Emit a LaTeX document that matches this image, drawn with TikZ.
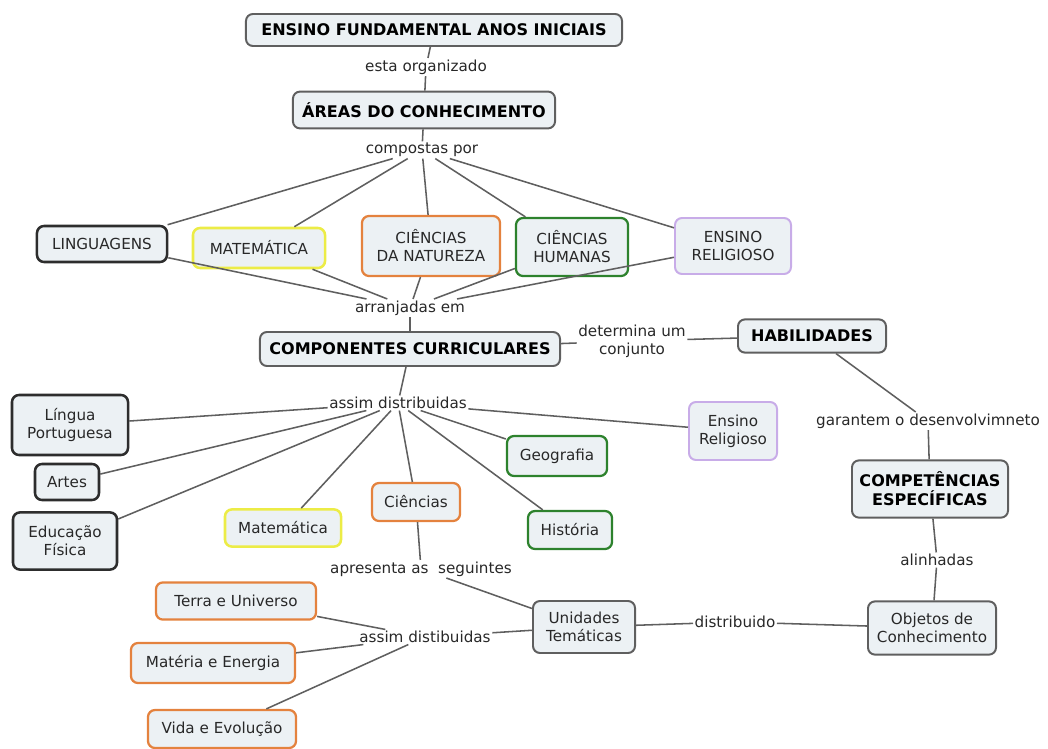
\documentclass[tikz,border=0pt]{standalone}
\usepackage{fontspec}
\setmainfont{DejaVu Sans}
\usepackage{tikz}

\definecolor{boxfill}{RGB}{236,241,244}
\definecolor{darkline}{RGB}{45,45,45}
\definecolor{grayline}{RGB}{95,95,95}
\definecolor{yellowline}{RGB}{236,236,70}
\definecolor{orangeline}{RGB}{228,130,62}
\definecolor{greenline}{RGB}{45,130,45}
\definecolor{purpleline}{RGB}{200,172,232}
\definecolor{txt}{RGB}{40,40,40}

\begin{document}
\begin{tikzpicture}[x=0.025cm, y=-0.025cm, font=\fontsize{10.8}{12.8}\selectfont]
    \tikzset{box/.style = {shape=rectangle, rounded corners=5pt, draw=grayline, line width=1.4pt, fill=boxfill, text=txt, align=center, inner sep=2pt}}
    \tikzset{title/.style = {box, font=\fontsize{11.4}{13.4}\selectfont\bfseries, text=black}}
    \tikzset{blackbox/.style = {box, draw=darkline, line width=1.8pt}}
    \tikzset{yellowbox/.style = {box, draw=yellowline, line width=1.8pt}}
    \tikzset{orangebox/.style = {box, draw=orangeline, line width=1.6pt}}
    \tikzset{greenbox/.style = {box, draw=greenline, line width=1.6pt}}
    \tikzset{purplebox/.style = {box, draw=purpleline, line width=1.4pt}}
    \tikzset{link/.style = {text=txt, align=center, inner sep=1pt}}
    \tikzset{edge/.style = {draw=grayline, line width=1.1pt, -}}

    \useasboundingbox (0,0) rectangle (1048,749);

    % main concepts
    \node[title, minimum width=9.4cm, minimum height=0.8cm] (efai) at (434,30) {ENSINO FUNDAMENTAL ANOS INICIAIS};
    \node[title, minimum width=6.55cm, minimum height=0.92cm] (areas) at (424,110) {ÁREAS DO CONHECIMENTO};
    \node[title, minimum width=7.5cm, minimum height=0.85cm] (comp) at (410,349) {COMPONENTES CURRICULARES};
    \node[title, minimum width=3.7cm, minimum height=0.83cm] (hab) at (812,336) {HABILIDADES};
    \node[title, minimum width=3.9cm, minimum height=1.43cm] (ce) at (930,489) {COMPETÊNCIAS\\ESPECÍFICAS};

    % areas
    \node[blackbox, minimum width=3.25cm, minimum height=0.9cm] (ling) at (102,244) {LINGUAGENS};
    \node[yellowbox, minimum width=3.3cm, minimum height=1cm] (mat) at (259,248) {MATEMÁTICA};
    \node[orangebox, minimum width=3.45cm, minimum height=1.5cm] (cn) at (431,246) {CIÊNCIAS\\DA NATUREZA};
    \node[greenbox, minimum width=2.8cm, minimum height=1.45cm] (ch) at (572,247) {CIÊNCIAS\\HUMANAS};
    \node[purplebox, minimum width=2.9cm, minimum height=1.4cm] (er) at (733,246) {ENSINO\\RELIGIOSO};

    % componentes
    \node[blackbox, minimum width=2.9cm, minimum height=1.5cm] (lp) at (70,425) {Língua\\Portuguesa};
    \node[blackbox, minimum width=1.6cm, minimum height=0.9cm] (artes) at (67,482) {Artes};
    \node[blackbox, minimum width=2.6cm, minimum height=1.43cm] (ef) at (65,541) {Educação\\Física};
    \node[yellowbox, minimum width=2.9cm, minimum height=0.93cm] (mat2) at (283,528) {Matemática};
    \node[orangebox, minimum width=2.2cm, minimum height=0.95cm] (cien) at (416,502) {Ciências};
    \node[greenbox, minimum width=2.5cm, minimum height=1cm] (geo) at (557,456) {Geografia};
    \node[greenbox, minimum width=2.1cm, minimum height=0.95cm] (hist) at (570,530) {História};
    \node[purplebox, minimum width=2.2cm, minimum height=1.45cm] (er2) at (733,431) {Ensino\\Religioso};

    % unidades
    \node[box, minimum width=2.55cm, minimum height=1.3cm] (ut) at (584,627) {Unidades\\Temáticas};
    \node[box, minimum width=3.2cm, minimum height=1.33cm] (oc) at (932,628) {Objetos de\\Conhecimento};
    \node[orangebox, minimum width=4cm, minimum height=0.93cm] (teu) at (236,601) {Terra e Universo};
    \node[orangebox, minimum width=4.1cm, minimum height=1cm] (mee) at (213,663) {Matéria e Energia};
    \node[orangebox, minimum width=3.7cm, minimum height=0.95cm] (vee) at (222,729) {Vida e Evolução};

    % linking phrases
    \node[link] (org) at (426,67) {esta organizado};
    \node[link] (comppor) at (422,150) {compostas por};
    \node[link] (arr) at (410,308) {arranjadas em};
    \node[link] (det) at (632,341) {determina um\\conjunto};
    \node[link] (dist) at (398,403) {assim distribuidas};
    \node[link] (apr) at (421,569) {apresenta as\ \ seguintes};
    \node[link] (dist2) at (425,637) {assim distibuidas};
    \node[link] (distr) at (735,622) {distribuido};
    \node[link] (gar) at (928,421) {garantem o desenvolvimneto};
    \node[link] (alin) at (937,560) {alinhadas};

    % edges
    \draw[edge] (efai) -- (org) -- (areas) -- (comppor);
    \foreach \n in {ling,mat,cn,ch,er}
        \draw[edge] (comppor) -- (\n);
    \foreach \n in {ling,mat,cn,ch,er}
        \draw[edge] (\n) -- (arr);
    \draw[edge] (arr) -- (comp);
    \draw[edge] (comp) -- (det) -- (hab);
    \draw[edge] (comp) -- (dist);
    \foreach \n in {lp,artes,ef,mat2,cien,geo,hist,er2}
        \draw[edge] (dist) -- (\n);
    \draw[edge] (cien) -- (apr) -- (ut);
    \draw[edge] (ut) -- (dist2);
    \foreach \n in {teu,mee,vee}
        \draw[edge] (dist2) -- (\n);
    \draw[edge] (ut) -- (distr) -- (oc);
    \draw[edge] (hab) -- (gar) -- (ce);
    \draw[edge] (ce) -- (alin) -- (oc);
\end{tikzpicture}
\end{document}
